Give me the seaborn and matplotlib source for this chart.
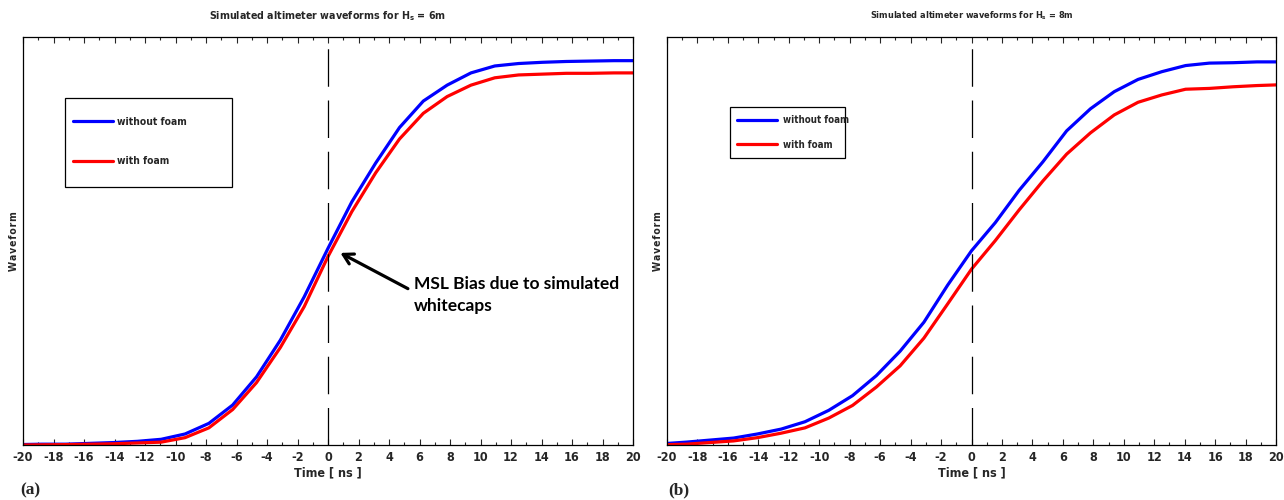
import numpy as np
import pandas as pd
import matplotlib
matplotlib.use("Agg")
import matplotlib.pyplot as plt
import seaborn as sns
from matplotlib.patches import Rectangle
from matplotlib.lines import Line2D
from matplotlib import font_manager

# ---------------- data ----------------
sample_index = list(range(-13, 14))
gate_ns = 1.5625
time_ns = [k * gate_ns for k in sample_index]

hs6_without = [0.001, 0.002, 0.002, 0.004, 0.006, 0.009, 0.014, 0.027, 0.053, 0.098,
               0.167, 0.257, 0.363, 0.482, 0.596, 0.691, 0.778, 0.843, 0.882, 0.912,
               0.929, 0.935, 0.938, 0.940, 0.941, 0.942, 0.942]
hs6_with = [0.000, 0.0005, 0.001, 0.002, 0.003, 0.005, 0.007, 0.018, 0.042, 0.087,
            0.153, 0.239, 0.339, 0.462, 0.572, 0.667, 0.750, 0.813, 0.854, 0.882,
            0.900, 0.907, 0.909, 0.911, 0.911, 0.912, 0.912]
hs8_without = [0.003, 0.007, 0.012, 0.017, 0.027, 0.039, 0.057, 0.085, 0.121, 0.170,
               0.230, 0.301, 0.392, 0.476, 0.545, 0.624, 0.694, 0.770, 0.824, 0.866,
               0.896, 0.915, 0.930, 0.936, 0.937, 0.939, 0.939]
hs8_with = [0.0005, 0.002, 0.006, 0.010, 0.018, 0.029, 0.042, 0.066, 0.097, 0.142,
            0.194, 0.262, 0.346, 0.431, 0.501, 0.576, 0.647, 0.713, 0.765, 0.809,
            0.840, 0.858, 0.872, 0.874, 0.878, 0.881, 0.883]

series_labels = ["without foam", "with foam"]
series_colors = ["#0000FF", "#FF0000"]
x_ticks = list(range(-20, 21, 2))
titles = ["Simulated altimeter waveforms for H$_\\mathregular{s}$ = 6m",
          "Simulated altimeter waveforms for H$_\\mathregular{s}$ = 8m"]
panel_tags = ["(a)", "(b)"]
annotation_text = "MSL Bias due to simulated\nwhitecaps"
y_label = "\u200aW\u200aa\u200av\u200ae\u200af\u200ao\u200ar\u200am\u200a"

# ---------------- style ----------------
sns.set_style("white")
names = {f.name for f in font_manager.fontManager.ttflist}
narrow = "Liberation Sans Narrow" if "Liberation Sans Narrow" in names else "DejaVu Sans"
plt.rcParams["font.family"] = [narrow, "DejaVu Sans"]
plt.rcParams["font.stretch"] = "condensed"
plt.rcParams["mathtext.fontset"] = "custom"
mt = narrow + ":weight=bold:stretch=condensed"
plt.rcParams["mathtext.rm"] = mt
plt.rcParams["mathtext.it"] = mt
plt.rcParams["mathtext.bf"] = mt

fig = plt.figure(figsize=(12.84, 5.0), dpi=100)
W, H = 1284, 500


def px_axes(x0, x1, y0, y1):
    return fig.add_axes([x0 / W, 1 - y1 / H, (x1 - x0) / W, (y1 - y0) / H])


ax1 = px_axes(23, 633, 37, 445)
ax2 = px_axes(667, 1276, 37, 445)

panels = [
    (ax1, hs6_without, hs6_with),
    (ax2, hs8_without, hs8_with),
]

for i, (ax, s_wo, s_w) in enumerate(panels):
    df = pd.DataFrame({
        "time": time_ns * 2,
        "value": s_wo + s_w,
        "series": [series_labels[0]] * len(time_ns) + [series_labels[1]] * len(time_ns),
    })
    sns.lineplot(data=df, x="time", y="value", hue="series",
                 palette=dict(zip(series_labels, series_colors)),
                 linewidth=2.3, ax=ax, legend=False, sort=False)
    ax.axvline(0, color="black", lw=0.9, dashes=(30, 11))
    ax.set_xlim(-20, 20)
    ax.set_ylim(0, 1)
    ax.set_xticks(x_ticks)
    ax.set_xticks(range(-20, 21, 1), minor=True)
    ax.set_xticklabels([str(t) for t in x_ticks], fontweight="bold", fontsize=9)
    ax.set_yticks([])
    ax.tick_params(axis="x", which="major", direction="in", length=4, width=0.8,
                   top=True, bottom=True, pad=4)
    ax.tick_params(axis="x", which="minor", direction="in", length=2, width=0.8,
                   top=True, bottom=True)
    for sp in ax.spines.values():
        sp.set_visible(True)
        sp.set_color("black")
        sp.set_linewidth(0.9)
    ax.set_xlabel("Time [ ns ]", fontweight="bold", fontsize=9, labelpad=2)
    ax.set_ylabel(y_label, fontweight="bold", fontsize=7.5, labelpad=3)
    ax.set_title(titles[i], fontweight="bold", fontsize=7.7 if i == 0 else 6.6, pad=13)

# legends (frameless legend + manual box)
handles = [Line2D([], [], color=c, lw=2.3) for c in series_colors]


def fx(ax_x0, px):
    return (px - ax_x0) / 610


def fy(py):
    return (445 - py) / 408


leg1 = ax1.legend(handles, series_labels, loc="upper left",
                  bbox_to_anchor=(fx(23, 70), fy(114)),
                  frameon=False, prop={"weight": "bold", "size": 7.4},
                  handlelength=3.9, handletextpad=0.4, labelspacing=2.83,
                  borderpad=0.3, borderaxespad=0)
ax1.add_patch(Rectangle((fx(23, 65), fy(187)), 167 / 610, 89 / 408,
                        transform=ax1.transAxes, fill=False, ec="black", lw=0.9))

leg2 = ax2.legend(handles, series_labels, loc="upper left",
                  bbox_to_anchor=(fx(667, 734), fy(112)),
                  frameon=False, prop={"weight": "bold", "size": 7},
                  handlelength=4.1, handletextpad=0.6, labelspacing=1.54,
                  borderpad=0.3, borderaxespad=0)
ax2.add_patch(Rectangle((fx(667, 730), fy(158)), 115 / 610, 51 / 408,
                        transform=ax2.transAxes, fill=False, ec="black", lw=0.9))

# annotation
ax1.annotate("", xy=(0.65, 0.474), xytext=(5.4, 0.38),
             arrowprops=dict(arrowstyle="->,head_length=0.7,head_width=0.4",
                             lw=2.3, color="black"))
ax1.text(5.65, 0.415, annotation_text, fontsize=12.5, fontweight="bold",
         family=["Lato", "DejaVu Sans"], fontstretch="normal", va="top", ha="left",
         linespacing=1.5, color="black")

# panel tags
for tag, xp in zip(panel_tags, [20, 668]):
    fig.text(xp / W, 1 - 490 / H, tag, fontsize=12.5, fontweight="bold",
             family="Liberation Serif", fontstretch="normal", va="center", ha="left")

fig.savefig("out.png", dpi=100)
